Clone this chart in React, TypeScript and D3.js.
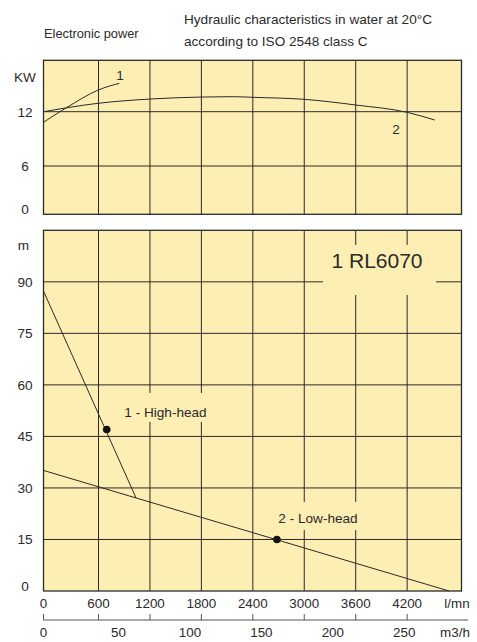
import * as d3 from "d3";

// flow grid (l/min) and secondary axis (m3/h)
const flowTicks = [0, 600, 1200, 1800, 2400, 3000, 3600, 4200];
const m3hTicks = [0, 50, 100, 150, 200, 250];
const kwTicks = [0, 6, 12];
const headTicks = [0, 15, 30, 45, 60, 75, 90];

// electronic power curves (kW vs l/min)
const power1Flow = [0, 250, 598, 843];
const power1Kw = [10.83, 12.44, 14.4, 15.14];
const power2Flow = [0, 598, 1200, 1800, 2165, 2400, 2995, 3600, 4200, 4522];
const power2Kw = [12.0, 12.93, 13.4, 13.62, 13.66, 13.59, 13.37, 12.74, 11.93, 11.08];

// head curves (m vs l/min)
const highFlow = [0, 1037];
const highHead = [87.3, 27.15];
const lowFlow = [0, 4689];
const lowHead = [35.1, 0];
const dutyFlow = [696, 2681];
const dutyHead = [47, 15];

const FONT = "'Liberation Sans', Arial, sans-serif";
const BG = "#fdeeb4";
const INK = "#2a2a2a";

export default function App() {
  const left = 43.5;
  const right = 461.5;

  const x = d3.scaleLinear().domain([0, 600, 4834]).range([left, 98.5, right]);
  const yKw = d3.scaleLinear().domain([0, 6, 17.68]).range([214.3, 166, 60.3]);
  const yM = d3.scaleLinear().domain([0, 105]).range([591, 230.3]);

  const kwLine = d3
    .line<[number, number]>()
    .x((d) => x(d[0]))
    .y((d) => yKw(d[1]))
    .curve(d3.curveMonotoneX);
  const mLine = d3
    .line<[number, number]>()
    .x((d) => x(d[0]))
    .y((d) => yM(d[1]));

  const p1 = power1Flow.map((f, i) => [f, power1Kw[i]] as [number, number]);
  const p2 = power2Flow.map((f, i) => [f, power2Kw[i]] as [number, number]);
  const hh = highFlow.map((f, i) => [f, highHead[i]] as [number, number]);
  const lh = lowFlow.map((f, i) => [f, lowHead[i]] as [number, number]);

  const topY0 = yKw(17.68);
  const topY1 = yKw(0);
  const botY0 = yM(105);
  const botY1 = yM(0);
  const axisY = 620;

  const gridFlow = flowTicks.filter((d) => d > 0);

  return (
    <svg
      width={477}
      height={642}
      style={{ position: "absolute", left: 0, top: 0, background: "#fff" }}
      fontFamily={FONT}
      fill={INK}
    >
      {/* titles */}
      <text x={44} y={38} fontSize={12.8}>Electronic power</text>
      <text x={184} y={24} fontSize={13.6}>Hydraulic characteristics in water at 20°C</text>
      <text x={184} y={45.7} fontSize={13.6}>according to ISO 2548 class C</text>

      {/* power panel */}
      <rect x={left} y={topY0} width={right - left} height={topY1 - topY0} fill={BG} />
      {gridFlow.map((f) => (
        <line key={"tv" + f} x1={x(f)} x2={x(f)} y1={topY0} y2={topY1} stroke={INK} strokeWidth={1} />
      ))}
      {kwTicks.filter((d) => d > 0).map((k) => (
        <line key={"th" + k} x1={left} x2={right} y1={yKw(k)} y2={yKw(k)} stroke={INK} strokeWidth={1} />
      ))}
      <rect x={left} y={topY0} width={right - left} height={topY1 - topY0} fill="none" stroke={INK} strokeWidth={1.3} />
      {kwTicks.map((k) => (
        <text
          key={"tl" + k}
          x={25}
          y={k === 0 ? yKw(k) : yKw(k) + 5}
          fontSize={13.6}
          textAnchor="middle"
        >
          {k}
        </text>
      ))}
      <text x={25} y={81.5} fontSize={13.6} textAnchor="middle">KW</text>
      <path d={kwLine(p1) ?? ""} fill="none" stroke={INK} strokeWidth={1} />
      <path d={kwLine(p2) ?? ""} fill="none" stroke={INK} strokeWidth={1} />
      <text x={120} y={80} fontSize={13.6} textAnchor="middle">1</text>
      <text x={396} y={134} fontSize={13.6} textAnchor="middle">2</text>

      {/* head panel */}
      <rect x={left} y={botY0} width={right - left} height={botY1 - botY0} fill={BG} />
      {gridFlow.map((f) => (
        <line key={"bv" + f} x1={x(f)} x2={x(f)} y1={botY0} y2={botY1} stroke={INK} strokeWidth={1} />
      ))}
      {headTicks.filter((d) => d > 0).map((h) => (
        <line key={"bh" + h} x1={left} x2={right} y1={yM(h)} y2={yM(h)} stroke={INK} strokeWidth={1} />
      ))}
      {/* label boxes breaking the grid */}
      <rect x={323} y={245} width={113} height={50} fill={BG} />
      <rect x={116} y={393} width={98} height={29} fill={BG} />
      <rect x={272} y={502} width={92} height={28} fill={BG} />
      <rect x={left} y={botY0} width={right - left} height={botY1 - botY0} fill="none" stroke={INK} strokeWidth={1.3} />

      {headTicks.map((h) => (
        <text
          key={"bl" + h}
          x={25}
          y={h === 0 ? yM(h) : yM(h) + 5}
          fontSize={13.6}
          textAnchor="middle"
        >
          {h}
        </text>
      ))}
      <text x={23.5} y={250} fontSize={13.6} textAnchor="middle">m</text>

      <path d={mLine(hh) ?? ""} fill="none" stroke={INK} strokeWidth={1} />
      <path d={mLine(lh) ?? ""} fill="none" stroke={INK} strokeWidth={1} />
      {dutyFlow.map((f, i) => (
        <circle key={"dot" + i} cx={x(f)} cy={yM(dutyHead[i])} r={3.8} fill="#111" />
      ))}
      <text x={377} y={268.3} fontSize={21} textAnchor="middle">1 RL6070</text>
      <text x={165.5} y={416.5} fontSize={13.6} textAnchor="middle">1 - High-head</text>
      <text x={318} y={523} fontSize={13.6} textAnchor="middle">2 - Low-head</text>

      {/* flow axis labels */}
      {flowTicks.map((f) => (
        <text key={"fl" + f} x={x(f)} y={608.3} fontSize={13.4} textAnchor="middle">
          {f}
        </text>
      ))}
      <text x={457} y={608.3} fontSize={13.4} textAnchor="middle">l/mn</text>

      {/* m3/h axis */}
      <line x1={left} x2={468} y1={axisY} y2={axisY} stroke="#555" strokeWidth={1} />
      {flowTicks.map((f) => (
        <line key={"mt" + f} x1={x(f)} x2={x(f)} y1={axisY - 6} y2={axisY} stroke="#555" strokeWidth={1} />
      ))}
      {m3hTicks.map((q) => (
        <text key={"ml" + q} x={x((q * 1000) / 60)} y={636.7} fontSize={13.4} textAnchor="middle">
          {q}
        </text>
      ))}
      <text x={455} y={636.7} fontSize={13.4} textAnchor="middle">m3/h</text>
    </svg>
  );
}
